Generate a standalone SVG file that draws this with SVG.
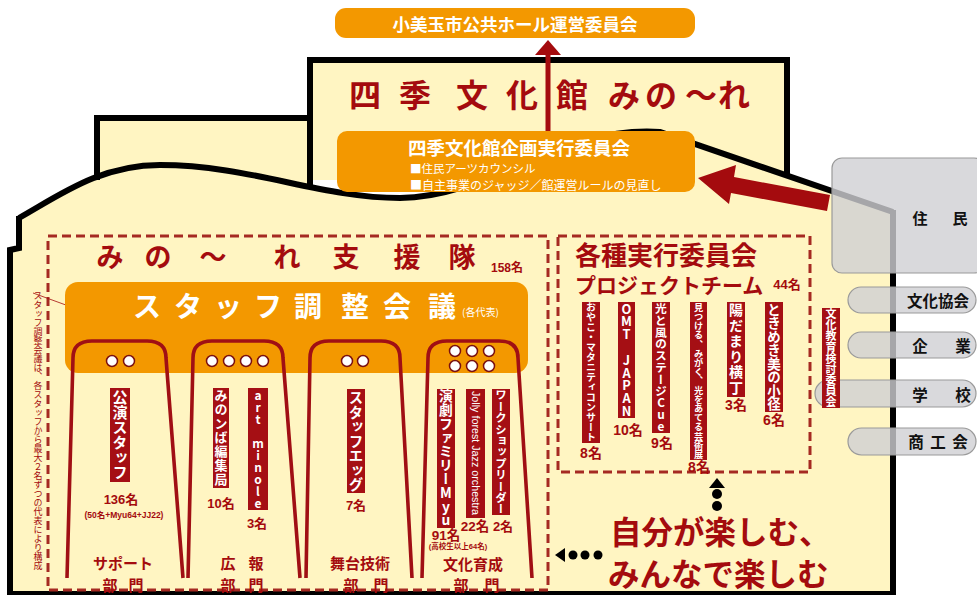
<svg xmlns="http://www.w3.org/2000/svg" width="977" height="595" viewBox="0 0 977 595">
<style>
.cjk{font-family:"Noto Sans CJK JP","Noto Sans CJK SC",sans-serif;font-weight:700}
.thin{font-weight:400}
.red{fill:#A40B0E}
.wht{fill:#fff}
.mid{text-anchor:middle;dominant-baseline:central}
.v{writing-mode:vertical-rl;text-anchor:middle;font-family:"Noto Sans CJK JP",sans-serif;font-weight:700;fill:#fff}
.up{text-orientation:upright}
.lab{fill:#A50F14}
.num{font-family:"Liberation Sans","Noto Sans CJK JP",sans-serif;font-weight:700;fill:#A40B0E;text-anchor:middle;dominant-baseline:central}
.tube{fill:none;stroke:#A00F14;stroke-width:3.6;stroke-linejoin:round}
.dot{fill:#fff;stroke:#7A1010;stroke-width:1.5}
.dash{fill:none;stroke:#A52A22;stroke-width:3;stroke-dasharray:9 5}
.wall{fill:none;stroke:#000;stroke-width:6}
.gray{fill:#CFCFD3;fill-opacity:.8;stroke:#9A9A9A;stroke-width:1.2}
.gt{font-family:"Noto Sans CJK JP",sans-serif;font-weight:700;fill:#111;text-anchor:middle;dominant-baseline:central}
.or{fill:#F39800}
</style>
<rect width="977" height="595" fill="#fff"/>
<g id="building">
<path d="M10,594 L10,250 L19,248 L19,218 C60,195 100,165 160,165 C250,165 320,198 400,198 C490,198 560,125 660,132 L893,212 L893,594 Z" fill="#FFF5C2"/>
<rect x="97" y="118" width="213" height="80" fill="#FFF5C2"/>
<rect x="310" y="60" width="477" height="120" fill="#FFF5C2"/>
<path class="wall" d="M19,218 C60,195 100,165 160,165 C250,165 320,198 400,198 C490,198 560,125 660,132 L893,212"/>
<path class="wall" d="M97,180 L97,118 L310,118"/>
<path class="wall" d="M310,188 L310,60 L787,60 L787,174"/>
<path class="wall" d="M19,216 L19,248 L10,250 L10,594 L893,594 L893,210"/>
<text class="cjk red" font-size="32" text-anchor="middle" dominant-baseline="central" x="365 415 472 522 572 624 661 701 734" y="93">四季文化館みの〜れ</text>
</g>
<g id="top-committee">
<rect class="or" x="335" y="8" width="360" height="30" rx="11"/>
<text class="cjk wht mid" x="515" y="23" font-size="17.5">小美玉市公共ホール運営委員会</text>
</g>
<g id="kikaku-committee">
<rect class="or" x="337" y="131" width="358" height="61" rx="10"/>
<text class="cjk wht mid" x="519" y="146.5" font-size="18.5">四季文化館企画実行委員会</text>
<text class="cjk thin wht" x="410" y="172.5" font-size="11.5">■住民アーツカウンシル</text>
<text class="cjk thin wht" x="410" y="189.8" font-size="12">■自主事業のジャッジ／館運営ルールの見直し</text>
</g>
<g id="shientai">
<rect class="dash" x="48" y="236" width="500" height="354"/>
<text class="cjk red" font-size="27" text-anchor="middle" dominant-baseline="central" x="110 158 213 287 346 407 462" y="255">みの〜れ支援隊</text>
<text class="num" x="507" y="268" font-size="12">158名</text>
<path d="M33,293 L85,312" stroke="#A40B0E" stroke-width="0.8"/>
<text class="cjk thin red" x="38" y="431" font-size="9" style="writing-mode:vertical-rl;text-anchor:middle">スタッフ調整会議は、各スタッフから最大２名ずつの代表により構成</text>
</g>
<g id="staff-council">
<rect class="or" x="65" y="282" width="463" height="91" rx="13"/>
<text class="cjk wht" font-size="28" text-anchor="middle" dominant-baseline="central" x="147 188 228 268 308 355 397 442" y="305">スタッフ調整会議</text>
<text class="cjk thin wht" x="462" y="316" font-size="10">(各代表)</text>
</g>
<g id="dept-support">
<path class="tube" d="M67,578 L73,358 Q73,341 92,341 L147,341 Q166,341 166,358 L183,578"/>
<circle class="dot" cx="112" cy="361" r="5.5"/><circle class="dot" cx="129" cy="361" r="5.5"/>
<rect class="lab" x="110" y="388" width="20" height="94"/>
<text class="v" x="120" y="435" font-size="15">公演スタッフ</text>
<text class="num" x="121" y="499" font-size="13">136名</text>
<text class="num" x="124" y="515" font-size="8.5">(50名+Myu64+JJ22)</text>
<text class="cjk red mid" x="123" y="562" font-size="15">サポート</text>
<text class="cjk red mid" x="110 136" y="584" font-size="15">部門</text>
</g>
<g id="dept-pr">
<path class="tube" d="M188,578 L193,358 Q193,341 212,341 L264,341 Q283,341 283,358 L300,578"/>
<circle class="dot" cx="212" cy="361" r="5.5"/><circle class="dot" cx="229" cy="361" r="5.5"/><circle class="dot" cx="246" cy="361" r="5.5"/><circle class="dot" cx="263" cy="361" r="5.5"/>
<rect class="lab" x="213" y="388" width="16" height="100"/>
<text class="v" x="221" y="438" font-size="13" letter-spacing="1">みのンば編集局</text>
<text class="num" x="221" y="503" font-size="13">10名</text>
<rect class="lab" x="248" y="388" width="20" height="122"/>
<text class="v up" x="258" y="449" font-size="12">art minole</text>
<text class="num" x="257" y="523" font-size="13">3名</text>
<text class="cjk red mid" x="228 256" y="562" font-size="15">広報</text>
<text class="cjk red mid" x="228 256" y="584" font-size="15">部門</text>
</g>
<g id="dept-stage">
<path class="tube" d="M306,578 L310,358 Q310,341 329,341 L381,341 Q400,341 400,358 L412,578"/>
<circle class="dot" cx="347" cy="361" r="5.5"/><circle class="dot" cx="363" cy="361" r="5.5"/>
<rect class="lab" x="347" y="389" width="18" height="104"/>
<text class="v" x="356" y="441" font-size="14.5">スタッフエッグ</text>
<text class="num" x="356" y="505" font-size="13">7名</text>
<text class="cjk red mid" x="360" y="562" font-size="15">舞台技術</text>
<text class="cjk red mid" x="351 381" y="584" font-size="15">部門</text>
</g>
<g id="dept-culture">
<path class="tube" d="M422,578 L428,358 Q428,341 447,341 L499,341 Q518,341 518,358 L532,578"/>
<circle class="dot" cx="455" cy="351" r="5.5"/><circle class="dot" cx="472" cy="351" r="5.5"/><circle class="dot" cx="489" cy="351" r="5.5"/>
<circle class="dot" cx="455" cy="366" r="5.5"/><circle class="dot" cx="472" cy="366" r="5.5"/><circle class="dot" cx="489" cy="366" r="5.5"/>
<rect class="lab" x="437" y="389" width="18" height="139"/>
<text class="v up" x="446" y="458" font-size="13.8">演劇ファミリーMyu</text>
<rect class="lab" x="466" y="389" width="19" height="129"/>
<text class="v" x="475.5" y="453" font-size="10" style="font-family:'Liberation Sans',sans-serif;font-weight:400" textLength="124" lengthAdjust="spacingAndGlyphs">Jolly forest Jazz orchestra</text>
<rect class="lab" x="492" y="389" width="18" height="126"/>
<text class="v" x="501" y="452" font-size="11.4">ワークショップリーダー</text>
<text class="num" x="446" y="535" font-size="13.5">91名</text>
<text class="num" x="475" y="526" font-size="13.5">22名</text>
<text class="num" x="503" y="526" font-size="13">2名</text>
<text class="num" x="458" y="546" font-size="7.5">(高校生以上64名)</text>
<text class="cjk red mid" x="473" y="563" font-size="15">文化育成</text>
<text class="cjk red mid" x="461 492" y="584" font-size="15">部門</text>
</g>
<g id="project-team">
<rect class="dash" x="558" y="236" width="252" height="236"/>
<text class="cjk red" x="575" y="253" font-size="26" dominant-baseline="central">各種実行委員会</text>
<text class="cjk red" x="575" y="284" font-size="21" dominant-baseline="central">プロジェクトチーム</text>
<text class="num" x="787" y="284" font-size="13">44名</text>
<rect class="lab" x="582" y="302" width="18" height="141"/>
<text class="v" x="591" y="372.5" font-size="10">おやこ・マタニティコンサート</text>
<text class="num" x="591" y="453" font-size="14">8名</text>
<rect class="lab" x="618" y="302" width="17" height="116"/>
<text class="v up" x="626.5" y="360" font-size="12.8">OMT JAPAN</text>
<text class="num" x="628" y="430" font-size="14">10名</text>
<rect class="lab" x="652" y="302" width="18" height="131"/>
<text class="v up" x="661" y="367.5" font-size="11.8">光と風のステージCue</text>
<text class="num" x="662" y="443" font-size="14">9名</text>
<rect class="lab" x="690" y="302" width="17" height="158"/>
<text class="v" x="698.5" y="381" font-size="9.2">見つける、みがく、光をあてる芸術展</text>
<text class="num" x="699" y="467" font-size="14">8名</text>
<rect class="lab" x="727" y="302" width="18" height="95"/>
<text class="v" x="736" y="349.5" font-size="14" letter-spacing="1.5">陽だまり横丁</text>
<text class="num" x="736" y="405" font-size="14">3名</text>
<rect class="lab" x="765" y="302" width="18" height="110"/>
<text class="v" x="774" y="357" font-size="13.5">ときめき美の小径</text>
<text class="num" x="774" y="420" font-size="14">6名</text>
</g>
<g id="connectors">
<path d="M548,131 L548,52" stroke="#A40B0E" stroke-width="5"/>
<polygon points="548,40 535,55 561,55" fill="#A40B0E"/>
<polygon points="698,178 736,165 734,177 830,195 827,211 731,193 729,204" fill="#A40B0E"/>
<polygon points="717,478 709,488 725,488" fill="#000"/>
<circle cx="717" cy="494" r="5" fill="#000"/><circle cx="717" cy="506" r="5" fill="#000"/>
<polygon points="555,555 565,548 565,562" fill="#000"/>
<circle cx="573" cy="555" r="4.5" fill="#000"/><circle cx="585" cy="555" r="4.5" fill="#000"/><circle cx="598" cy="555" r="4.5" fill="#000"/>
</g>
<g id="jumin">
<rect class="gray" x="832" y="158" width="152" height="115" rx="10"/>
<text class="gt" x="920 960" y="217" font-size="15">住民</text>
</g>
<g id="bunka-kyokai">
<rect class="gray" x="848" y="287" width="128" height="26" rx="13"/>
<text class="gt" x="938" y="300" font-size="15.5">文化協会</text>
</g>
<g id="kigyo">
<rect class="gray" x="848" y="332" width="128" height="26" rx="13"/>
<text class="gt" x="920 963" y="345" font-size="15.5">企業</text>
</g>
<g id="gakko">
<rect class="gray" x="815" y="380" width="161" height="27" rx="13.5"/>
<text class="gt" x="920 963" y="394" font-size="15.5">学校</text>
</g>
<g id="shokokai">
<rect class="gray" x="848" y="428" width="128" height="27" rx="13.5"/>
<text class="gt" x="916 938 960" y="441" font-size="15.5">商工会</text>
</g>
<g id="bunka-kyoiku">
<rect class="lab" x="822" y="308" width="18" height="100"/>
<text class="v" x="831" y="358" font-size="11">文化教育検討委員会</text>
</g>
<g id="slogan">
<text class="cjk red" x="610" y="530" font-size="31.5" dominant-baseline="central">自分が楽しむ、</text>
<text class="cjk red" x="608" y="572" font-size="31.5" dominant-baseline="central">みんなで楽しむ</text>
</g>
</svg>
